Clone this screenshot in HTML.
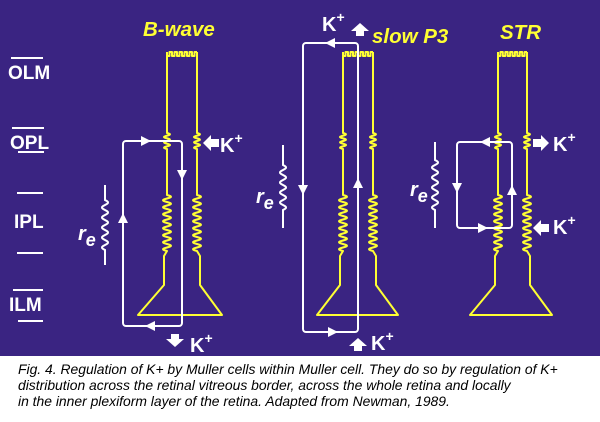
<!DOCTYPE html>
<html><head><meta charset="utf-8"><style>
html,body{margin:0;padding:0;background:#fff;width:600px;height:422px;overflow:hidden}
.cap{position:absolute;left:18px;top:361px;font:italic 13.9px/16px "Liberation Sans",sans-serif;color:#000;width:590px;white-space:nowrap}
</style></head><body>
<svg id="s" width="600" height="356" style="position:absolute;left:0;top:0" xmlns="http://www.w3.org/2000/svg">
<rect width="600" height="356" fill="#3a2482"/>
<g font-family="Liberation Sans, sans-serif" font-weight="bold" fill="#fff" font-size="19">
<text x="8" y="79">OLM</text><line x1="11" y1="58" x2="43" y2="58" stroke="#fff" stroke-width="2"/>
<text x="10" y="149">OPL</text><line x1="12" y1="128" x2="44" y2="128" stroke="#fff" stroke-width="2"/><line x1="18" y1="152" x2="44" y2="152" stroke="#fff" stroke-width="2"/>
<line x1="17" y1="193" x2="43" y2="193" stroke="#fff" stroke-width="2"/><text x="14" y="228">IPL</text><line x1="17" y1="253" x2="43" y2="253" stroke="#fff" stroke-width="2"/>
<text x="9" y="311">ILM</text><line x1="13" y1="290" x2="43" y2="290" stroke="#fff" stroke-width="2"/><line x1="18" y1="321" x2="43" y2="321" stroke="#fff" stroke-width="2"/>
</g>
<g font-family="Liberation Sans, sans-serif" font-weight="bold" font-style="italic" fill="#ffff33" font-size="20.5">
<text x="143" y="36">B-wave</text><text x="372" y="43">slow P3</text><text x="500" y="39">STR</text>
</g>
<g id="cells" fill="none" stroke="#ffff33" stroke-width="2" stroke-linejoin="round"></g>
<g id="wh" fill="none" stroke="#fff" stroke-width="2"></g>
<g id="wf" fill="#fff"></g>
<g font-family="Liberation Sans, sans-serif" font-weight="bold" fill="#fff" font-size="20" font-style="italic">
<text x="78" y="240">r<tspan font-size="18" dy="6">e</tspan></text>
<text x="256" y="203">r<tspan font-size="18" dy="6">e</tspan></text>
<text x="410" y="196">r<tspan font-size="18" dy="6">e</tspan></text>
</g>
<g font-family="Liberation Sans, sans-serif" font-weight="bold" fill="#fff" font-size="20">
<text x="220" y="152">K<tspan font-size="14" dy="-9">+</tspan></text>
<text x="190" y="352">K<tspan font-size="14" dy="-9">+</tspan></text>
<text x="322" y="31">K<tspan font-size="14" dy="-9">+</tspan></text>
<text x="371" y="350">K<tspan font-size="14" dy="-9">+</tspan></text>
<text x="553" y="151">K<tspan font-size="14" dy="-9">+</tspan></text>
<text x="553" y="234">K<tspan font-size="14" dy="-9">+</tspan></text>
</g>
</svg>
<div class="cap">Fig. 4. Regulation of K+ by Muller cells within Muller cell. They do so by regulation of K+<br>distribution across the retinal vitreous border, across the whole retina and locally<br>in the inner plexiform layer of the retina. Adapted from Newman, 1989.</div>
<script>
function sine(x,y0,y1,a,p){var pts=[];for(var y=y0;y<=y1+0.01;y+=0.5)pts.push([x+a*Math.sin((y-y0)/p*2*Math.PI),y]);pts.push([x,y1]);return pts;}
function P(pts){return "M"+pts.map(function(q){return q[0].toFixed(1)+" "+q[1].toFixed(1)}).join(" L");}
var c=document.getElementById("cells"),h="";
[[167,197,138,222],[343,373,317,398],[498,527,470,552]].forEach(function(v){
var L=v[0],R=v[1];
var left=[[L,52],[L,133]].concat(sine(L,133,149,3,5.33)).concat([[L,195]]).concat(sine(L,195,251,4,7)).concat([[L-3,256],[L-3,285],[v[2],315],[v[3],315],[R+3,285],[R+3,256],[R,251]]);
var right=sine(R,195,251,4,7).reverse().concat([[R,195],[R,149]]).concat(sine(R,133,149,3,5.33).reverse()).concat([[R,133],[R,52]]);
h+='<path d="'+P(left.concat(right))+'"/>';
var tp=[[L,52]];var n=6,w=(R-L)/n;for(var i=0;i<n;i++){var x=L+i*w;tp.push([x,56],[x+w*0.5,56],[x+w*0.5,52],[x+w,52]);}
h+='<path d="'+P(tp)+'"/>';});
c.innerHTML=h;
var w=document.getElementById("wh");
w.innerHTML='<rect x="123" y="141" width="59" height="185" rx="3"/><rect x="303" y="43" width="55" height="289" rx="3"/><rect x="457" y="142" width="55" height="86" rx="3"/>'+
'<path d="'+P([[105,185]].concat(sine(105,200,250,3,10)).concat([[105,265]]))+'"/><path d="'+P([[283,145]].concat(sine(283,165,210,3,10)).concat([[283,228]]))+'"/><path d="'+P([[435,142]].concat(sine(435,160,210,3,10)).concat([[435,228]]))+'"/>';
function tri(x,y,dir){var s=5;var p={r:[[x+s,y],[x-s,y-s],[x-s,y+s]],l:[[x-s,y],[x+s,y-s],[x+s,y+s]],u:[[x,y-s],[x-s,y+s],[x+s,y+s]],d:[[x,y+s],[x-s,y-s],[x+s,y-s]]}[dir];return '<polygon points="'+p.join(" ")+'"/>';}
function big(x,y,dir){var t={l:"M-8 0 L0 -8 L0 -4 L8 -4 L8 4 L0 4 L0 8Z",r:"M8 0 L0 -8 L0 -4 L-8 -4 L-8 4 L0 4 L0 8Z",u:"M0 -7 L-9 1 L-4 1 L-4 6 L4 6 L4 1 L9 1Z",d:"M0 7 L-9 -1 L-4 -1 L-4 -6 L4 -6 L4 -1 L9 -1Z"}[dir];return '<path transform="translate('+x+' '+y+')" d="'+t+'"/>';}
document.getElementById("wf").innerHTML=tri(146,141,"r")+tri(182,175,"d")+tri(123,218,"u")+tri(150,326,"l")+
tri(330,43,"l")+tri(303,190,"d")+tri(358,183,"u")+tri(333,332,"r")+
tri(485,142,"l")+tri(457,188,"d")+tri(512,190,"u")+tri(483,228,"r")+
big(211,143,"l")+big(175,340,"d")+big(360,30,"u")+big(358,345,"u")+big(541,143,"r")+big(541,228,"l");
</script>
</body></html>
